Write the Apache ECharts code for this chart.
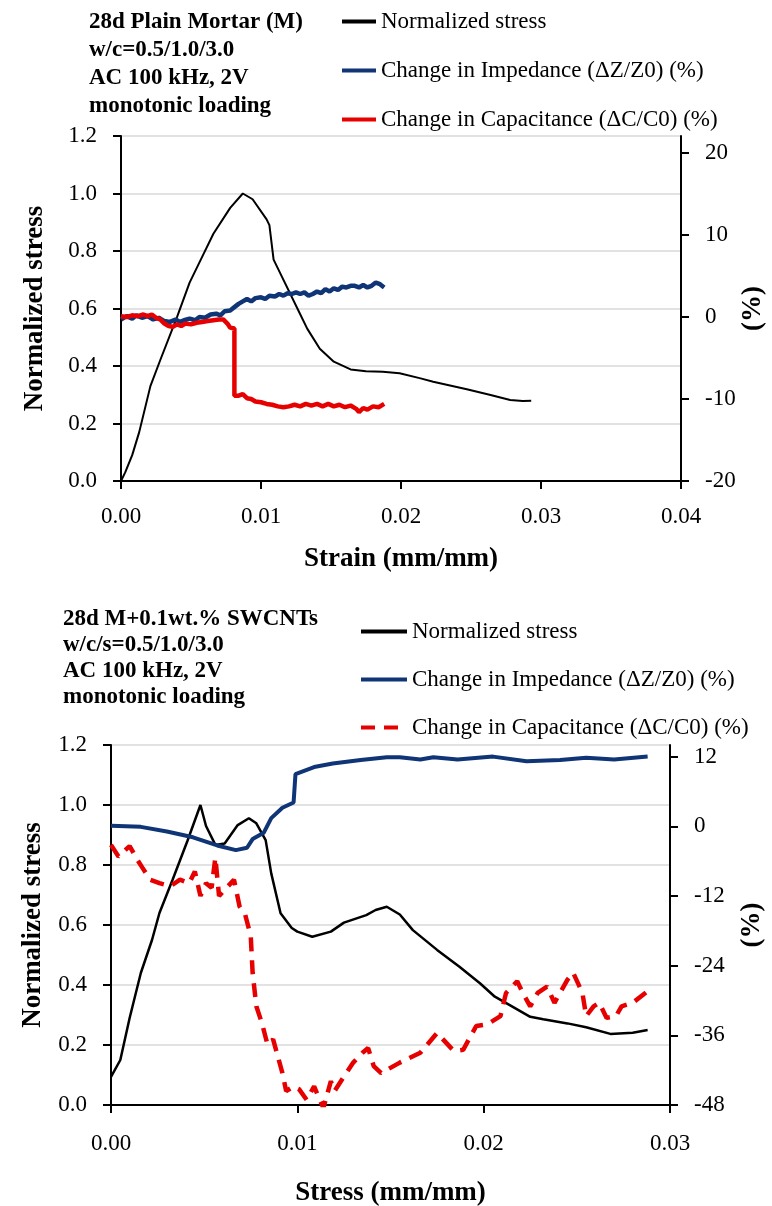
<!DOCTYPE html>
<html>
<head>
<meta charset="utf-8">
<script src="https://cdn.jsdelivr.net/npm/echarts@6/dist/echarts.min.js"></script>
<style>
  html, body { margin: 0; padding: 0; background: #fff; }
  #top { position: absolute; left: 0; top: 0; width: 772px; height: 590px; }
  #bottom { position: absolute; left: 0; top: 590px; width: 772px; height: 616px; }
</style>
</head>
<body>
<div id="top"></div>
<div id="bottom"></div>
<script>
// ---- data: [strain, value] pairs ----
const seriesNames = ['Normalized stress', 'Change in Impedance (\u0394Z/Z0) (%)', 'Change in Capacitance (\u0394C/C0) (%)'];

// top panel: 28d plain mortar
const topStress = [[0,0],[0.0003,0.03],[0.0008,0.09],[0.0013,0.17],[0.0021,0.33],[0.0028,0.42],[0.004,0.57],[0.0049,0.69],
  [0.0059,0.79],[0.0066,0.86],[0.0078,0.95],[0.0087,1.0],[0.0094,0.98],[0.0104,0.91],[0.0106,0.89],[0.0109,0.77],
  [0.0115,0.71],[0.0126,0.6],[0.0133,0.53],[0.0142,0.46],[0.0152,0.415],[0.0164,0.388],[0.0175,0.382],[0.0187,0.38],
  [0.0199,0.375],[0.0214,0.357],[0.0223,0.345],[0.0247,0.319],[0.0264,0.299],[0.0278,0.282],[0.0287,0.278],[0.0293,0.279]];
const topImpedance = [[0,-0.3],[0.0004,0.1],[0.0008,-0.2],[0.0011,0.2],[0.0015,-0.1],[0.0019,0.1],[0.0023,-0.3],[0.0027,-0.1],
  [0.0031,-0.5],[0.0035,-0.6],[0.0039,-0.3],[0.0042,-0.6],[0.0045,-0.4],[0.0049,-0.2],[0.0053,-0.4],[0.0056,0.0],
  [0.006,-0.1],[0.0064,0.3],[0.0068,0.4],[0.0071,0.2],[0.0074,0.7],[0.0078,0.8],[0.0081,1.2],[0.0084,1.6],[0.0087,1.9],
  [0.009,2.2],[0.0093,1.9],[0.0096,2.3],[0.01,2.4],[0.0103,2.2],[0.0106,2.6],[0.011,2.5],[0.0113,2.8],[0.0116,2.6],
  [0.0119,2.9],[0.0122,2.8],[0.0125,3.0],[0.0128,2.8],[0.0131,3.0],[0.0134,2.6],[0.0137,2.8],[0.014,3.1],[0.0143,2.9],
  [0.0146,3.4],[0.0149,3.1],[0.0152,3.5],[0.0155,3.3],[0.0158,3.7],[0.0161,3.6],[0.0164,3.8],[0.0167,3.8],[0.017,3.6],
  [0.0173,3.9],[0.0176,3.6],[0.0179,3.8],[0.0182,4.2],[0.0185,4.0],[0.0188,3.6]];
const topCapacitance = [[0,0.1],[0.0004,0.0],[0.0008,0.2],[0.0012,0.1],[0.0016,0.3],[0.0019,0.1],[0.0022,0.3],[0.0025,-0.1],
  [0.0028,-0.3],[0.0031,-0.8],[0.0034,-1.1],[0.0037,-1.2],[0.004,-0.9],[0.0043,-1.1],[0.0046,-0.8],[0.005,-0.9],
  [0.0054,-0.7],[0.0058,-0.6],[0.0062,-0.5],[0.0066,-0.4],[0.007,-0.3],[0.0073,-0.3],[0.0076,-0.8],[0.0078,-1.3],
  [0.0081,-1.4],[0.0081,-9.6],[0.0084,-9.6],[0.0087,-9.4],[0.009,-9.9],[0.0093,-10.0],[0.0096,-10.3],[0.01,-10.4],
  [0.0104,-10.6],[0.0108,-10.7],[0.0112,-10.9],[0.0116,-11.0],[0.012,-10.9],[0.0124,-10.7],[0.0128,-10.9],[0.0132,-10.6],
  [0.0136,-10.8],[0.014,-10.6],[0.0144,-10.9],[0.0148,-10.6],[0.0152,-10.9],[0.0156,-10.7],[0.016,-11.0],[0.0164,-10.8],
  [0.0168,-11.2],[0.017,-11.6],[0.0173,-11.1],[0.0176,-11.3],[0.018,-10.9],[0.0184,-11.0],[0.0188,-10.6]];

// bottom panel: M + 0.1 wt.% SWCNTs
const botStress = [[0,0.094],[0.0005,0.15],[0.001,0.29],[0.0016,0.44],[0.0022,0.55],[0.0026,0.64],[0.0033,0.75],[0.0041,0.88],
  [0.0048,1.0],[0.0051,0.93],[0.0056,0.867],[0.0061,0.872],[0.0068,0.933],[0.0074,0.956],[0.0078,0.939],[0.0083,0.883],
  [0.0086,0.772],[0.0091,0.639],[0.0097,0.59],[0.01,0.578],[0.0108,0.561],[0.0118,0.578],[0.0125,0.608],[0.0137,0.633],
  [0.0142,0.65],[0.0148,0.661],[0.0155,0.635],[0.0162,0.583],[0.0175,0.517],[0.0187,0.461],[0.0198,0.406],[0.0206,0.361],
  [0.0214,0.333],[0.0225,0.294],[0.0232,0.286],[0.0245,0.272],[0.0255,0.259],[0.0268,0.237],[0.028,0.241],[0.0288,0.25]];
const botImpedance = [[0,0.1],[0.0016,-0.1],[0.003,-0.9],[0.0044,-1.9],[0.0057,-3.3],[0.0067,-4.1],[0.0073,-3.7],[0.0076,-2.2],
  [0.0082,-1.1],[0.0086,1.4],[0.0092,3.2],[0.0098,4.1],[0.0099,9.0],[0.0109,10.2],[0.0119,10.8],[0.0134,11.4],
  [0.0148,11.9],[0.0155,11.9],[0.0166,11.5],[0.0173,11.9],[0.0186,11.5],[0.0205,12.0],[0.0223,11.2],[0.0241,11.4],
  [0.0255,11.8],[0.027,11.5],[0.0288,12.0]];
const botCapacitance = [[0,-3.2],[0.0004,-5.2],[0.001,-3.4],[0.0014,-5.7],[0.0017,-7.2],[0.0021,-9.2],[0.0026,-9.8],[0.0032,-10.3],
  [0.0037,-9.2],[0.0042,-9.8],[0.0045,-7.8],[0.0048,-12.0],[0.0051,-9.8],[0.0054,-10.6],[0.0056,-5.4],[0.0058,-12.0],
  [0.0062,-10.6],[0.0066,-9.2],[0.0069,-13.8],[0.0072,-15.2],[0.0075,-18.9],[0.0076,-25.2],[0.0078,-31.0],[0.0081,-33.9],
  [0.0084,-37.6],[0.0087,-36.7],[0.0092,-42.5],[0.0094,-45.6],[0.0098,-44.8],[0.0101,-45.3],[0.0105,-47.1],[0.0109,-44.8],
  [0.0112,-47.1],[0.0114,-48.5],[0.0118,-43.9],[0.012,-45.6],[0.0125,-43.1],[0.013,-40.7],[0.0135,-39.0],[0.0138,-38.2],
  [0.0141,-41.3],[0.0145,-42.5],[0.0155,-40.7],[0.0166,-39.0],[0.0175,-35.6],[0.0184,-38.7],[0.0189,-38.5],[0.0196,-34.4],
  [0.0202,-34.1],[0.0209,-32.7],[0.0212,-28.7],[0.0218,-26.7],[0.0221,-28.7],[0.0225,-31.0],[0.0229,-28.7],[0.0234,-27.6],
  [0.0238,-30.4],[0.0245,-26.4],[0.0248,-25.2],[0.0253,-28.7],[0.0255,-32.7],[0.0259,-31.0],[0.0262,-30.4],[0.0266,-33.0],
  [0.0271,-32.7],[0.0274,-31.0],[0.028,-30.4],[0.0288,-28.4]];

// ---- shared look ----
const serif = '"Liberation Serif", "Times New Roman", serif';
const black = '#000';
const navy = '#0f3577';
const red = '#e60000';

function leftAxis(gap) {
  return {
    type: 'value', min: 0, max: 1.2, interval: 0.2,
    name: 'Normalized stress', nameLocation: 'middle', nameGap: gap,
    nameTextStyle: { fontFamily: serif, fontSize: 27, fontWeight: 'bold', color: black },
    axisLine: { show: true, lineStyle: { color: black, width: 2 } },
    axisTick: { show: true, length: 8, lineStyle: { color: black, width: 2 } },
    axisLabel: { margin: 24, fontFamily: serif, fontSize: 23, color: black, formatter: v => v.toFixed(1) },
    splitLine: { show: true, lineStyle: { color: '#d9d9d9', width: 1.5 } }
  };
}

function rightAxis(min, max, ticks, gap) {
  return {
    type: 'value', position: 'right', min: min, max: max,
    name: '(%)', nameLocation: 'middle', nameGap: gap, nameRotate: 90, nameMoveOverlap: false,
    nameTextStyle: { fontFamily: serif, fontSize: 27, fontWeight: 'bold', color: black },
    axisLine: { show: true, lineStyle: { color: black, width: 2 } },
    axisTick: { show: true, length: 8, customValues: ticks, lineStyle: { color: black, width: 2 } },
    axisLabel: { margin: 24, fontFamily: serif, fontSize: 23, color: black, customValues: ticks },
    splitLine: { show: false }
  };
}

function xAxis(max, title, gap, labelMargin) {
  return {
    type: 'value', min: 0, max: max, interval: 0.01,
    name: title, nameLocation: 'middle', nameGap: gap,
    nameTextStyle: { fontFamily: serif, fontSize: 27, fontWeight: 'bold', color: black },
    axisLine: { show: true, onZero: false, lineStyle: { color: black, width: 2 } },
    axisTick: { show: true, length: 8, lineStyle: { color: black, width: 2 } },
    axisLabel: { margin: labelMargin, fontFamily: serif, fontSize: 23, color: black, formatter: v => v.toFixed(2) },
    splitLine: { show: false }
  };
}

function lineSeries(name, data, yIndex, color, width, dash) {
  return {
    name: name, type: 'line', data: data, yAxisIndex: yIndex,
    symbol: 'none', smooth: false, animation: false,
    lineStyle: { color: color, width: width, type: dash || 'solid' },
    itemStyle: { color: color }
  };
}

// legend with line-only keys (no marker dot)
function legend(left, top, width, gap) {
  return {
    orient: 'vertical', left: left, top: top, padding: 0,
    itemWidth: width, itemHeight: 14, itemGap: gap,
    data: seriesNames,
    itemStyle: { opacity: 0, borderWidth: 0 },
    lineStyle: { width: 4 },
    textStyle: { fontFamily: serif, fontSize: 23, color: black }
  };
}

// ---- top chart ----
const topChart = echarts.init(document.getElementById('top'));
topChart.setOption({
  animation: false,
  title: {
    text: '28d Plain Mortar (M)\nw/c=0.5/1.0/3.0\nAC 100 kHz, 2V\nmonotonic loading',
    left: 84, top: 3,
    textStyle: { fontFamily: serif, fontSize: 23, fontWeight: 'bold', color: black, lineHeight: 28 }
  },
  legend: legend(340, 10, 34, 26),
  grid: { left: 121, right: 91, top: 136, bottom: 109, outerBoundsMode: 'none' },
  xAxis: xAxis(0.04, 'Strain (mm/mm)', 65, 24),
  yAxis: [leftAxis(72), rightAxis(-20, 22.07, [-20, -10, 0, 10, 20], 59)],
  series: [
    lineSeries(seriesNames[0], topStress, 0, black, 2),
    lineSeries(seriesNames[1], topImpedance, 1, navy, 4.5),
    lineSeries(seriesNames[2], topCapacitance, 1, red, 4.5)
  ]
});

// ---- bottom chart ----
const botChart = echarts.init(document.getElementById('bottom'));
botChart.setOption({
  animation: false,
  title: {
    text: '28d M+0.1wt.% SWCNTs\nw/c/s=0.5/1.0/3.0\nAC 100 kHz, 2V\nmonotonic loading',
    left: 58, top: 11,
    textStyle: { fontFamily: serif, fontSize: 23, fontWeight: 'bold', color: black, lineHeight: 26 }
  },
  legend: legend(359, 30, 46, 25),
  grid: { left: 111, right: 102, top: 155, bottom: 101, outerBoundsMode: 'none' },
  xAxis: xAxis(0.03, 'Stress (mm/mm)', 75, 27),
  yAxis: [leftAxis(64), rightAxis(-48, 14, [-48, -36, -24, -12, 0, 12], 69)],
  series: [
    lineSeries(seriesNames[0], botStress, 0, black, 2.5),
    lineSeries(seriesNames[1], botImpedance, 1, navy, 4),
    lineSeries(seriesNames[2], botCapacitance, 1, red, 4.5, [14, 9])
  ]
});
</script>
</body>
</html>
